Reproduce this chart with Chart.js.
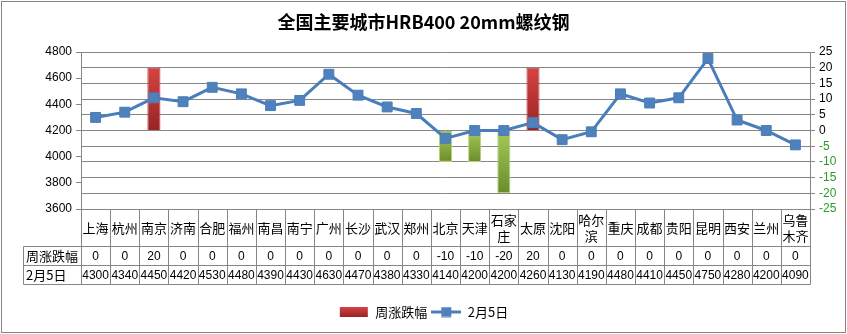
<!DOCTYPE html>
<html>
<head>
<meta charset="utf-8">
<script src="https://cdn.jsdelivr.net/npm/chart.js@4"></script>
<style>
  html, body { margin: 0; padding: 0; background: #fff; }
  #wrap { width: 847px; height: 334px; }
</style>
</head>
<body>
<div id="wrap"><canvas id="steelChart"></canvas></div>
<script>
// data
var cities = ['上海', '杭州', '南京', '济南', '合肥', '福州', '南昌', '南宁', '广州', '长沙', '武汉', '郑州', '北京',
  '天津', '石家庄', '太原', '沈阳', '哈尔滨', '重庆', '成都', '贵阳', '昆明', '西安', '兰州', '乌鲁木齐'];
var weekChange = [0, 0, 20, 0, 0, 0, 0, 0, 0, 0, 0, 0, -10, -10, -20, 20, 0, 0, 0, 0, 0, 0, 0, 0, 0];
var price0205 = [4300, 4340, 4450, 4420, 4530, 4480, 4390, 4430, 4630, 4470, 4380, 4330, 4140,
  4200, 4200, 4260, 4130, 4190, 4480, 4410, 4450, 4750, 4280, 4200, 4090];
var seriesNames = ['周涨跌幅', '2月5日'];
var priceRange = [3600, 4800, 200];
var changeRange = [-25, 25, 5];

var gridGray = '#868686';
var cnFont = '"Noto Sans CJK SC", sans-serif';
var numFont = '"Liberation Sans", Arial, sans-serif';

function barFill(ctx, top, bottom, up) {
  var g = ctx.createLinearGradient(0, top, 0, bottom);
  if (up) {
    g.addColorStop(0, '#d64343');
    g.addColorStop(1, '#982424');
  } else {
    g.addColorStop(0, '#a6ca58');
    g.addColorStop(1, '#6a8c2c');
  }
  return g;
}

// legend symbols
function legendBox() {
  var c = document.createElement('canvas');
  c.width = 30; c.height = 10;
  var g = c.getContext('2d');
  g.fillStyle = barFill(g, 0, 10, true);
  g.fillRect(1, 0, 28, 10);
  return c;
}
function legendLine() {
  var c = document.createElement('canvas');
  c.width = 30; c.height = 11;
  var g = c.getContext('2d');
  g.strokeStyle = '#4a7ebb';
  g.lineWidth = 3;
  g.beginPath(); g.moveTo(0, 5.5); g.lineTo(30, 5.5); g.stroke();
  g.fillStyle = '#4f81bd';
  g.fillRect(10, 0.5, 10, 10);
  return c;
}

// data table under the plot + outer frame
var tablePlugin = {
  id: 'dataTable',
  afterDraw: function(chart) {
    var ctx = chart.ctx, xs = chart.scales.x, area = chart.chartArea;
    var n = cities.length;
    var half = (xs.getPixelForValue(1) - xs.getPixelForValue(0)) / 2;
    var top = Math.round(area.bottom) + 0.5;
    var r1 = top + 37, r2 = r1 + 19, r3 = r2 + 19;
    var tableLeft = 23.5;
    ctx.save();
    ctx.strokeStyle = gridGray;
    ctx.lineWidth = 1;
    ctx.beginPath();
    for (var i = 0; i <= n; i++) {
      var xb = Math.round(xs.getPixelForValue(0) - half + i * half * 2) + 0.5;
      ctx.moveTo(xb, top); ctx.lineTo(xb, r3);
    }
    [r1, r2, r3].forEach(function(y) {
      ctx.moveTo(tableLeft, y); ctx.lineTo(Math.round(area.right) + 0.5, y);
    });
    ctx.moveTo(tableLeft, r1); ctx.lineTo(tableLeft, r3);
    ctx.stroke();

    ctx.fillStyle = '#000';
    ctx.textBaseline = 'middle';
    ctx.textAlign = 'center';
    for (var j = 0; j < n; j++) {
      var cx = xs.getPixelForValue(j);
      var name = cities[j];
      ctx.font = '13px ' + cnFont;
      if (name.length > 2) {
        ctx.fillText(name.slice(0, 2), cx, (top + r1) / 2 - 8);
        ctx.fillText(name.slice(2), cx, (top + r1) / 2 + 8);
      } else {
        ctx.fillText(name, cx, (top + r1) / 2);
      }
      ctx.font = '12px ' + numFont;
      ctx.fillText(String(weekChange[j]), cx, (r1 + r2) / 2 + 1);
      ctx.fillText(String(price0205[j]), cx, (r2 + r3) / 2 + 1);
    }
    ctx.textAlign = 'left';
    ctx.font = '13px ' + cnFont;
    ctx.fillText(seriesNames[0], 26, (r1 + r2) / 2);
    ctx.fillText(seriesNames[1], 26, (r2 + r3) / 2);

    ctx.strokeStyle = gridGray;
    ctx.strokeRect(1.5, 1.5, 844, 331);
    ctx.restore();
  }
};

var ctx = document.getElementById('steelChart').getContext('2d');
var steelChart = new Chart(ctx, {
  type: 'bar',
  data: {
    labels: cities,
    datasets: [{
      type: 'bar',
      label: seriesNames[0],
      data: weekChange,
      yAxisID: 'y2',
      order: 1,
      barPercentage: 0.45,
      categoryPercentage: 1,
      borderWidth: function(c) { return c.raw ? 1 : 0; },
      borderColor: function(c) { return c.raw < 0 ? '#b5d374' : '#c84040'; },
      backgroundColor: function(c) {
        if (c.type !== 'data' || !c.chart.chartArea) return '#c0504d';
        var v = c.raw, y2 = c.chart.scales.y2;
        var a = y2.getPixelForValue(Math.max(v, 0)), b = y2.getPixelForValue(Math.min(v, 0));
        return barFill(c.chart.ctx, a, b, v >= 0);
      }
    }, {
      type: 'line',
      label: seriesNames[1],
      data: price0205,
      yAxisID: 'y',
      order: 0,
      borderColor: '#4a7ebb',
      borderWidth: 3,
      pointStyle: 'rect',
      pointRadius: 7,
      pointBackgroundColor: '#4f81bd',
      pointBorderColor: '#4a7ebb',
      pointBorderWidth: 1,
      tension: 0
    }]
  },
  options: {
    responsive: true,
    maintainAspectRatio: false,
    animation: false,
    devicePixelRatio: 1,
    layout: { padding: { left: 0, right: 0, top: 0, bottom: 5.5 } },
    plugins: {
      title: {
        display: true,
        text: '全国主要城市HRB400 20mm螺纹钢',
        color: '#000',
        font: { family: cnFont, size: 18, weight: 'bold' },
        padding: { top: 11, bottom: 19.4 }
      },
      legend: {
        position: 'bottom',
        labels: {
          usePointStyle: true,
          pointStyleWidth: 30,
          padding: 4,
          color: '#000',
          font: { family: cnFont, size: 13 },
          generateLabels: function() {
            return [
              { text: seriesNames[0], pointStyle: legendBox(), datasetIndex: 0, hidden: false, lineWidth: 0, fillStyle: '#c0504d', strokeStyle: '#c0504d' },
              { text: seriesNames[1], pointStyle: legendLine(), datasetIndex: 1, hidden: false, lineWidth: 0, fillStyle: '#4f81bd', strokeStyle: '#4f81bd' }
            ];
          }
        }
      },
      tooltip: { enabled: false }
    },
    scales: {
      x: {
        offset: true,
        ticks: { display: false },
        grid: { display: false },
        border: { display: false },
        afterFit: function(s) { s.height = 92.5; }
      },
      y: {
        position: 'left',
        min: priceRange[0], max: priceRange[1],
        ticks: {
          stepSize: priceRange[2], padding: 4, autoSkip: false, color: '#000',
          font: { family: numFont, size: 12 },
          callback: function(v) { return String(v); }
        },
        grid: { drawOnChartArea: false, drawTicks: true, tickLength: 5, color: gridGray },
        border: { color: gridGray },
        afterFit: function(s) { s.width = 81; }
      },
      y2: {
        position: 'right',
        min: changeRange[0], max: changeRange[1],
        ticks: {
          stepSize: changeRange[2], padding: 4, autoSkip: false, maxTicksLimit: 20,
          color: function(c) { return c.tick.value < 0 ? '#2a9a2a' : '#000'; },
          font: { family: numFont, size: 12 },
          callback: function(v) { return String(v); }
        },
        grid: { drawOnChartArea: true, drawTicks: true, tickLength: 5, color: gridGray },
        border: { color: gridGray },
        afterFit: function(s) { s.width = 37; }
      }
    }
  },
  plugins: [tablePlugin]
});
</script>
</body>
</html>
